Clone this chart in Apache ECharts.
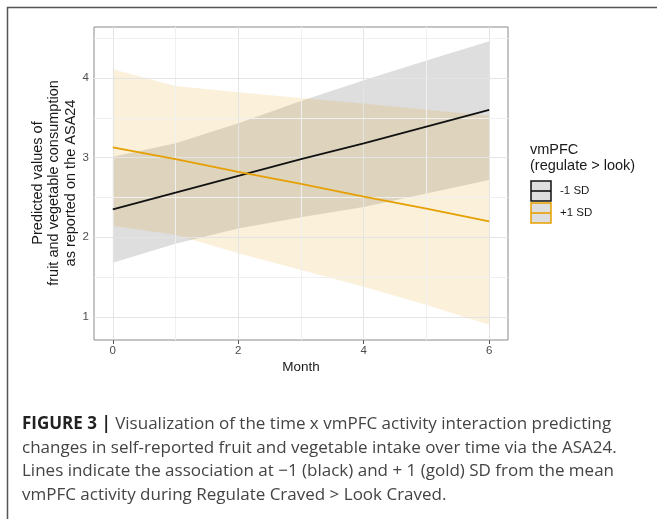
<!DOCTYPE html>
<html>
<head>
<meta charset="utf-8">
<script src="https://cdn.jsdelivr.net/npm/echarts@6/dist/echarts.min.js"></script>
<style>
  html, body { margin: 0; padding: 0; background: #fff; }
  #chart { width: 657px; height: 519px; }
</style>
</head>
<body>
<div id="chart"></div>
<script>
// months on the x axis
var months = [0, 1, 2, 3, 4, 5, 6]

// -1 SD (black) fit and ribbon
var lowFit = [2.35, 2.56, 2.77, 2.98, 3.18, 3.39, 3.60]
var lowLower = [1.68, 1.92, 2.11, 2.25, 2.38, 2.55, 2.72]
var lowUpper = [3.01, 3.18, 3.43, 3.71, 3.97, 4.22, 4.46]

// +1 SD (gold) fit and ribbon
var highFit = [3.13, 2.98, 2.82, 2.67, 2.51, 2.36, 2.20]
var highLower = [2.14, 2.03, 1.80, 1.59, 1.38, 1.15, 0.90]
var highUpper = [4.11, 3.90, 3.82, 3.75, 3.68, 3.60, 3.53]

// ticks and grid lines
var xTicks = [0, 2, 4, 6]
var xMinor = [1, 3, 5]
var yTicks = [1, 2, 3, 4]
var yMinor = [1.5, 2.5, 3.5, 4.5]

var legendNames = ['-1 SD', '+1 SD']

var BLACK = '#111111'
var GOLD = '#E69F00'
var FONT = 'Liberation Sans, Arial, sans-serif'
var CAP_FONT = '"Open Sans", sans-serif'

function pairs (ys) {
  return months.map(function (m, i) { return [m, ys[i]] })
}
function ribbon (lo, hi) {
  return months.map(function (m, i) { return [m, lo[i], hi[i]] })
}

var myChart = echarts.init(document.getElementById('chart'), null, { renderer: 'canvas' })

var gridLines = []
xTicks.forEach(function (v) { gridLines.push({ xAxis: v, lineStyle: { color: '#e4e4e4', width: 1, type: 'solid' } }) })
xMinor.forEach(function (v) { gridLines.push({ xAxis: v, lineStyle: { color: '#f0f0f0', width: 1, type: 'solid' } }) })
yTicks.forEach(function (v) { gridLines.push({ yAxis: v, lineStyle: { color: '#e4e4e4', width: 1, type: 'solid' } }) })
yMinor.forEach(function (v) { gridLines.push({ yAxis: v, lineStyle: { color: '#f0f0f0', width: 1, type: 'solid' } }) })

// whole ribbon as one polygon, drawn once from all rows
function ribbonSeries (lo, hi, fill) {
  var rows = ribbon(lo, hi)
  return {
    type: 'custom',
    data: rows,
    z: 3,
    silent: true,
    encode: { x: 0, y: [1, 2] },
    renderItem: function (params, api) {
      if (params.dataIndex !== 0) return null
      var pts = []
      rows.forEach(function (r) { pts.push(api.coord([r[0], r[1]])) })
      for (var i = rows.length - 1; i >= 0; i--) pts.push(api.coord([rows[i][0], rows[i][2]]))
      return { type: 'polygon', shape: { points: pts }, style: { fill: fill }, silent: true }
    }
  }
}

var option = {
  animation: false,
  backgroundColor: '#fff',
  grid: {
    left: 94,
    right: 149,
    top: 27,
    bottom: 179,
    show: true,
    borderColor: '#8a8a8a',
    borderWidth: 1,
    backgroundColor: 'transparent'
  },
  xAxis: {
    type: 'value',
    min: -0.3,
    max: 6.3,
    axisLine: { show: false },
    splitLine: { show: false },
    axisTick: { show: true, length: 4, customValues: xTicks, lineStyle: { color: '#555' } },
    axisLabel: { customValues: xTicks, color: '#4d4d4d', fontSize: 11.5, fontFamily: FONT, margin: 5 }
  },
  yAxis: {
    type: 'value',
    min: 0.71,
    max: 4.64,
    axisLine: { show: false },
    splitLine: { show: false },
    axisTick: { show: true, length: 4, customValues: yTicks, lineStyle: { color: '#555' } },
    axisLabel: { customValues: yTicks, color: '#4d4d4d', fontSize: 11.5, fontFamily: FONT, margin: 5 }
  },
  series: [
    {
      type: 'line',
      data: [],
      z: 1,
      markLine: {
        silent: true,
        symbol: ['none', 'none'],
        label: { show: false },
        animation: false,
        data: gridLines
      }
    },
    ribbonSeries(lowLower, lowUpper, 'rgba(0,0,0,0.13)'),
    ribbonSeries(highLower, highUpper, 'rgba(230,159,0,0.14)'),
    {
      name: legendNames[0],
      type: 'line',
      data: pairs(lowFit),
      symbol: 'none',
      z: 5,
      lineStyle: { color: BLACK, width: 1.8 }
    },
    {
      name: legendNames[1],
      type: 'line',
      data: pairs(highFit),
      symbol: 'none',
      z: 5,
      lineStyle: { color: GOLD, width: 1.8 }
    }
  ],
  graphic: [
    // outer figure frame (left + top)
    {
      type: 'polyline',
      shape: { points: [[7.5, 519], [7.5, 7.5], [657, 7.5]] },
      style: { stroke: '#555', lineWidth: 1.5, fill: null }
    },
    // y axis title
    {
      type: 'text',
      x: 54,
      y: 183,
      rotation: Math.PI / 2,
      style: {
        text: 'Predicted values of\nfruit and vegetable consumption\nas reported on the ASA24',
        font: '14.5px ' + FONT,
        fill: '#1a1a1a',
        align: 'center',
        verticalAlign: 'middle',
        lineHeight: 16.5
      }
    },
    // x axis title
    {
      type: 'text',
      x: 301,
      y: 367,
      style: { text: 'Month', font: '13.5px ' + FONT, fill: '#1a1a1a', align: 'center', verticalAlign: 'middle' }
    },
    // legend
    {
      type: 'text',
      x: 530,
      y: 158,
      style: { text: 'vmPFC\n(regulate > look)', font: '14.5px ' + FONT, fill: '#1a1a1a', verticalAlign: 'middle', lineHeight: 16 }
    },
    { type: 'rect', shape: { x: 531, y: 181, width: 20, height: 20 }, style: { fill: '#dedede', stroke: BLACK, lineWidth: 1.5 } },
    { type: 'line', shape: { x1: 531, y1: 191, x2: 551, y2: 191 }, style: { stroke: BLACK, lineWidth: 1.6 } },
    { type: 'rect', shape: { x: 531, y: 203, width: 20, height: 20 }, style: { fill: '#dedede', stroke: GOLD, lineWidth: 1.5 } },
    { type: 'line', shape: { x1: 531, y1: 213, x2: 551, y2: 213 }, style: { stroke: GOLD, lineWidth: 1.6 } },
    { type: 'text', x: 560, y: 191, style: { text: legendNames[0], font: '11.5px ' + FONT, fill: '#1a1a1a', verticalAlign: 'middle' } },
    { type: 'text', x: 560, y: 213, style: { text: legendNames[1], font: '11.5px ' + FONT, fill: '#1a1a1a', verticalAlign: 'middle' } },
    // caption
    {
      type: 'text',
      x: 22,
      y: 424,
      style: {
        text: '{b|FIGURE 3 |} Visualization of the time x vmPFC activity interaction predicting',
        font: '17px ' + CAP_FONT,
        fill: '#444',
        verticalAlign: 'middle',
        rich: { b: { font: 'bold 17px ' + CAP_FONT, fill: '#222' } }
      }
    },
    { type: 'text', x: 22, y: 448, style: { text: 'changes in self-reported fruit and vegetable intake over time via the ASA24.', font: '17px ' + CAP_FONT, fill: '#444', verticalAlign: 'middle' } },
    { type: 'text', x: 22, y: 471, style: { text: 'Lines indicate the association at \u22121 (black) and + 1 (gold) SD from the mean', font: '17px ' + CAP_FONT, fill: '#444', verticalAlign: 'middle' } },
    { type: 'text', x: 22, y: 495, style: { text: 'vmPFC activity during Regulate Craved > Look Craved.', font: '17px ' + CAP_FONT, fill: '#444', verticalAlign: 'middle' } }
  ]
}

myChart.setOption(option)
</script>
</body>
</html>
